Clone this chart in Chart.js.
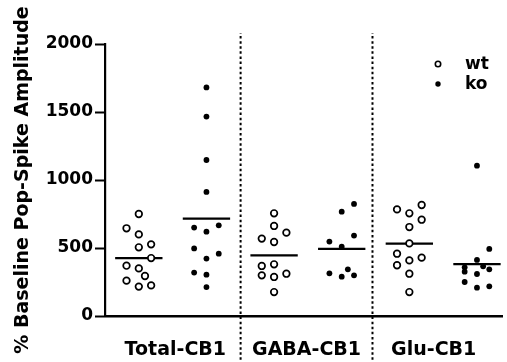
<!DOCTYPE html>
<html><head><meta charset="utf-8">
<script src="https://cdn.jsdelivr.net/npm/chart.js@4/dist/chart.umd.min.js"></script>
<style>html,body{margin:0;padding:0;background:#fff;overflow:hidden}</style>
</head><body>
<canvas id="c" width="507" height="362"></canvas>
<script>
// ---- data ----
const groupNames = ['Total-CB1', 'GABA-CB1', 'Glu-CB1'];
const seriesNames = ['wt', 'ko'];
const yTicks = [0, 500, 1000, 1500, 2000];

const totalWt    = [750, 645, 600, 527, 505, 426, 370, 350, 294, 260, 216, 225];
const totalWtCol = [0, -1, 0, 1, 0, 1, -1, 0, 0.5, -1, 0, 1];
const totalKo    = [1681, 1466, 1147, 912, 650, 620, 667, 497, 422, 458, 319, 304, 213];
const totalKoCol = [0, 0, 0, 0, -1, 0, 1, -1, 0, 1, -1, 0, 0];
const gabaWt     = [755, 662, 613, 569, 544, 368, 380, 311, 299, 287, 176];
const gabaWtCol  = [0, 0, 1, -1, 0, -1, 0, 1, -1, 0, 0];
const gabaKo     = [824, 767, 591, 547, 510, 314, 289, 343, 299];
const gabaKoCol  = [1, 0, 1, -1, 0, -1, 0, 0.5, 1];
const gluWt      = [784, 755, 816, 708, 654, 534, 458, 409, 429, 373, 311, 176];
const gluWtCol   = [-1, 0, 1, 1, 0, 0, -1, 0, 1, -1, 0, 0];
const gluKo      = [1105, 493, 412, 358, 365, 326, 309, 343, 250, 208, 218];
const gluKoCol   = [0, 1, 0, -1, 0.5, -1, 0, 1, -1, 0, 1];
const meanWt = [426, 446, 532];
const meanKo = [716, 493, 382];

// ---- layout constants (not data) ----
const COL_STEP = 0.182, MEAN_HALF = 0.35;
const groupLabelPos = [1.54, 3.48, 5.36];
const separatorPos = [2.505, 4.455];
const sepExtent = [-360, 2080];
const FONT = "'DejaVu Sans'";

const wtLanes = [[totalWt, totalWtCol, 1], [gabaWt, gabaWtCol, 3], [gluWt, gluWtCol, 5]];
const koLanes = [[totalKo, totalKoCol, 2], [gabaKo, gabaKoCol, 4], [gluKo, gluKoCol, 6]];
function lanePoints(lanes) {
  const out = [];
  lanes.forEach(([vals, cols, pos]) => vals.forEach((v, i) => out.push({x: pos + cols[i] * COL_STEP, y: v})));
  return out;
}
function meanPoints() {
  const out = [];
  for (let g = 0; g < groupNames.length; g++) {
    [[meanWt[g], 2 * g + 1], [meanKo[g], 2 * g + 2]].forEach(([m, pos]) => {
      out.push({x: pos - MEAN_HALF, y: m}, {x: pos + MEAN_HALF, y: m}, {x: pos + MEAN_HALF + 0.01, y: null});
    });
  }
  return out;
}
function sepPoints() {
  const out = [];
  separatorPos.forEach(p => out.push({x: p, y: sepExtent[0]}, {x: p, y: sepExtent[1]}, {x: p + 0.001, y: null}));
  return out;
}

const legendPlugin = {
  id: 'insideLegend',
  afterDraw(chart) {
    const {ctx, chartArea} = chart;
    const x0 = chartArea.right - 64, y0 = chartArea.top + 20;
    ctx.save();
    [0, 1].forEach(i => {
      const ds = chart.data.datasets[i];
      const y = y0 + i * 20;
      ctx.beginPath();
      ctx.arc(x0, y, 2.7, 0, Math.PI * 2);
      ctx.fillStyle = ds.backgroundColor;
      ctx.fill();
      if (ds.borderWidth) { ctx.lineWidth = 1.6; ctx.strokeStyle = '#000'; ctx.stroke(); }
      ctx.fillStyle = '#000';
      ctx.font = "bold 17px " + FONT;
      ctx.textBaseline = 'middle';
      ctx.textAlign = 'left';
      ctx.fillText(ds.label, x0 + 27, y + 1);
    });
    ctx.restore();
  }
};

new Chart(document.getElementById('c'), {
  type: 'scatter',
  data: {
    datasets: [
      {label: seriesNames[0], data: lanePoints(wtLanes), pointRadius: 3.3, pointHoverRadius: 3.3,
       borderWidth: 1.7, borderColor: '#000', backgroundColor: '#fff'},
      {label: seriesNames[1], data: lanePoints(koLanes), pointRadius: 2.9, pointHoverRadius: 2.9,
       borderWidth: 0, borderColor: '#000', backgroundColor: '#000'},
      {type: 'line', label: 'mean', data: meanPoints(), borderColor: '#000', borderWidth: 2.2,
       pointRadius: 0, spanGaps: false, showLine: true, fill: false},
      {type: 'line', label: 'sep', data: sepPoints(), borderColor: '#000', borderWidth: 2,
       borderDash: [2.5, 2.6], pointRadius: 0, spanGaps: false, showLine: true, fill: false, clip: false}
    ]
  },
  options: {
    responsive: false,
    animation: false,
    devicePixelRatio: 1,
    layout: {padding: {top: 44, left: 0, right: 0, bottom: 0}},
    plugins: {legend: {display: false}, tooltip: {enabled: false}},
    scales: {
      x: {
        type: 'linear', min: 0.5, max: 6.37,
        afterFit: s => { s.height = 46; },
        afterBuildTicks: s => { s.ticks = groupLabelPos.map(v => ({value: v})); },
        grid: {drawOnChartArea: false, drawTicks: false},
        border: {color: '#000', width: 2.4},
        ticks: {
          autoSkip: false, maxRotation: 0, padding: 23, color: '#000',
          font: {family: FONT, size: 19, weight: 'bold'},
          callback: (v, i) => groupNames[i]
        }
      },
      y: {
        min: 0, max: 2000,
        afterFit: s => { s.width = 105; },
        afterBuildTicks: s => { s.ticks = yTicks.map(v => ({value: v})); },
        grid: {drawOnChartArea: false, drawTicks: true, tickLength: 10, tickWidth: 2, tickColor: '#000'},
        border: {color: '#000', width: 2.2},
        ticks: {padding: 2, color: '#000', font: {family: FONT, size: 17, weight: 'bold'},
                callback: v => String(v)},
        title: {display: true, text: '% Baseline Pop-Spike Amplitude', color: '#000',
                padding: {top: 12, bottom: 0}, font: {family: FONT, size: 19, weight: 'bold'}}
      }
    }
  },
  plugins: [legendPlugin]
});
</script>
</body></html>
